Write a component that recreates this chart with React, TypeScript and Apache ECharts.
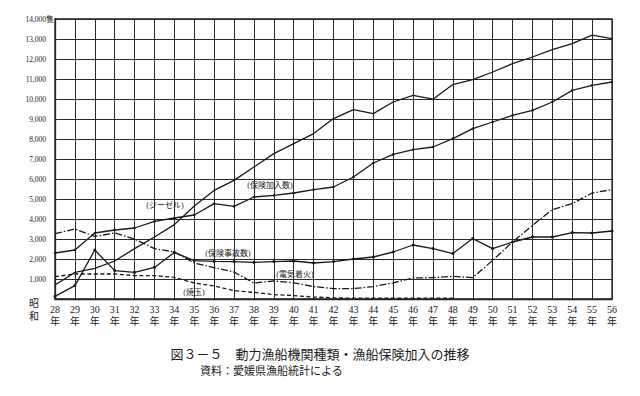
import React, { useEffect, useRef } from "react";
import * as echarts from "echarts";

const years = ["28","29","30","31","32","33","34","35","36","37","38","39","40","41","42","43","44","45","46","47","48","49","50","51","52","53","54","55","56"];
const yTicks = [1000,2000,3000,4000,5000,6000,7000,8000,9000,10000,11000,12000,13000,14000];

const diesel = [700,1330,1530,1900,2520,3100,3720,4650,5430,5930,6600,7270,7770,8270,9020,9470,9270,9850,10180,9990,10720,10970,11350,11770,12100,12470,12770,13190,13020];
const insured = [2300,2450,3300,3450,3550,3880,4050,4200,4770,4630,5100,5180,5300,5470,5600,6100,6800,7230,7470,7600,8020,8520,8850,9180,9430,9850,10430,10680,10850];
const accidents = [130,670,2450,1420,1330,1580,2330,1920,1880,1870,1830,1870,1900,1800,1870,2000,2100,2350,2700,2520,2270,3020,2520,2850,3100,3100,3320,3300,3400];
const electric = [3270,3500,3130,3300,3000,2520,2350,1800,1570,1350,800,900,810,620,520,520,620,810,1050,1070,1130,1070,1930,2850,3680,4470,4770,5300,5470];
const yakidama = [1120,1250,1250,1250,1170,1170,1080,800,650,420,330,220,170,100,60,40,40,40,40,40,40,null,null,null,null,null,null,null,null];

const seriesNames = ["ジーゼル","保険加入数","保険事故数","電気着火","焼玉"];
const titleText = "図３－５　動力漁船機関種類・漁船保険加入の推移";
const sourceText = "資料：愛媛県漁船統計による";

const FONT = "'Liberation Serif', 'Noto Sans CJK JP', serif";
const INK = "#1a1a1a";

function txt(x: number, y: number, text: string, size: number, align = "center") {
  return {
    type: "text",
    x,
    y,
    silent: true,
    style: {
      text,
      fontSize: size,
      fontFamily: FONT,
      fill: INK,
      align,
      verticalAlign: "middle",
      textAlign: align,
      textVerticalAlign: "middle",
    },
  };
}

export default function App() {
  const ref = useRef<HTMLDivElement>(null);
  useEffect(() => {
    if (!ref.current) return;
    const chart = echarts.init(ref.current, null, { renderer: "svg" });
    const line = (name: string, data: any[], type: any, symbol: string, size: number) => ({
      name,
      type: "line",
      data,
      symbol,
      symbolSize: size,
      showSymbol: symbol !== "none",
      itemStyle: { color: INK },
      lineStyle: { color: INK, width: 1.3, type },
      connectNulls: false,
      z: 3,
    });
    chart.setOption({
      animation: false,
      backgroundColor: "#ffffff",
      textStyle: { fontFamily: FONT },
      grid: { left: 55, right: 28, top: 19, bottom: 97, show: true, borderColor: "#222", borderWidth: 1.3, backgroundColor: "transparent" },
      xAxis: {
        type: "category",
        data: years,
        boundaryGap: false,
        axisLine: { show: true, lineStyle: { color: "#222", width: 1.3 } },
        axisTick: { show: false },
        splitLine: { show: true, lineStyle: { color: "#2a2a2a", width: 1 } },
        axisLabel: {
          formatter: (v: string) => `${v}\n年`,
          fontSize: 10,
          lineHeight: 12,
          color: INK,
          fontFamily: FONT,
          margin: 4,
          interval: 0,
        },
      },
      yAxis: {
        type: "value",
        min: 0,
        max: 14000,
        interval: 1000,
        axisLine: { show: true, lineStyle: { color: "#222", width: 1.3 } },
        axisTick: { show: false },
        splitLine: { show: true, lineStyle: { color: "#2a2a2a", width: 1 } },
        axisLabel: {
          formatter: (v: number) => (yTicks.includes(v) ? v.toLocaleString("en-US") : ""),
          fontSize: 7.5,
          color: INK,
          fontFamily: FONT,
          margin: 9,
        },
      },
      series: [
        line(seriesNames[0], diesel, "solid", "none", 0),
        line(seriesNames[1], insured, "solid", "circle", 2.5),
        line(seriesNames[2], accidents, "solid", "circle", 3),
        line(seriesNames[3], electric, [7, 2, 1.5, 2], "none", 0),
        line(seriesNames[4], yakidama, [4, 2.5], "none", 0),
      ],
      graphic: [
        txt(46, 19, "隻", 8, "left"),
        txt(34, 303, "昭", 10),
        txt(34, 316, "和", 10),
        txt(165, 205, `(${seriesNames[0]})`, 8),
        txt(270, 185, `(${seriesNames[1]})`, 8),
        txt(228, 253, `(${seriesNames[2]})`, 8),
        txt(295, 274, `(${seriesNames[3]})`, 8),
        txt(194, 292, `(${seriesNames[4]})`, 8),
        txt(320, 354, titleText, 13),
        txt(200, 371, sourceText, 11, "left"),
      ],
    });
    return () => chart.dispose();
  }, []);
  return <div ref={ref} style={{ position: "absolute", left: 0, top: 0, width: 640, height: 396 }} />;
}
